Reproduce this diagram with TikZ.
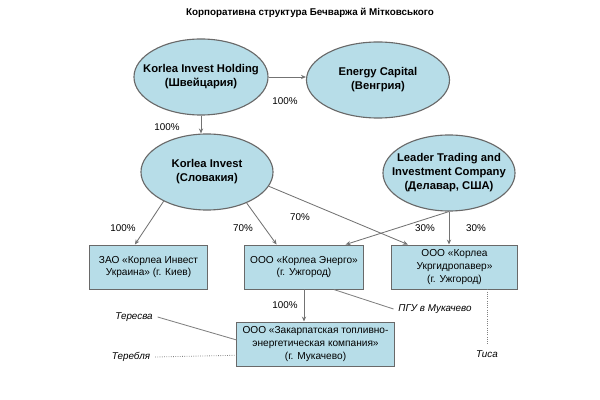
\documentclass[tikz,border=0pt]{standalone}
\usepackage{fontspec}
\setmainfont{Liberation Sans}
\usetikzlibrary{positioning, calc, arrows.meta, shapes.geometric}
\definecolor{aquafill}{RGB}{183,221,232}
\definecolor{rimgray}{RGB}{105,105,105}

\begin{document}
\begin{tikzpicture}[
    x=0.025cm, y=-0.025cm,
    firmoval/.style  = {ellipse, draw=rimgray, line width=0.8pt, fill=aquafill,
                        inner sep=0pt, inner xsep=-15pt,
                        minimum width=3.3cm, minimum height=1.9cm,
                        font=\fontsize{8}{10}\selectfont\bfseries, align=center},
    firmbox/.style   = {rectangle, draw=rimgray, line width=0.7pt, fill=aquafill,
                        minimum height=1.1cm, inner sep=1pt,
                        font=\fontsize{7.2}{9}\selectfont, align=center},
    share/.style     = {line width=0.6pt, draw=black!55,
                        -{Stealth[length=3.5pt, width=3pt]}},
    plantlink/.style = {line width=0.6pt, draw=black!50},
    plantdot/.style  = {plantlink, densely dotted},
    pctlbl/.style    = {font=\fontsize{7}{8}\selectfont},
    plantlbl/.style  = {font=\fontsize{7}{8}\selectfont\itshape},
    titlelbl/.style  = {font=\fontsize{7}{8}\selectfont\bfseries},
]
\useasboundingbox (0,0) rectangle (600,400);

%% ============================================================
%% COORDINATES (pixels of the 600x400 sheet)
%% ============================================================
\def\xHold{201}
\def\xEnergy{378}
\def\xInvest{207}
\def\xLeader{449}

\def\yTop{77}
\def\yMid{172}
\def\yBox{267}
\def\yLow{344}

%% ============================================================
%% TITLE
%% ============================================================
\node[titlelbl] (title) at (310,13)
    {Корпоративна структура Бечваржа й Мітковського};

%% ============================================================
%% HOLDINGS (ellipses)
%% ============================================================
\node[firmoval, minimum width=3.35cm] (hold) at (\xHold, \yTop)
    {Korlea Invest Holding\\(Швейцария)};
\node[firmoval, minimum width=3.575cm] (energy) at (\xEnergy, 80)
    {Energy Capital\\(Венгрия)};
\node[firmoval] (invest) at (\xInvest, \yMid)
    {Korlea Invest\\(Словакия)};
\node[firmoval] (leader) at (\xLeader, 173)
    {Leader Trading and\\Investment Company\\(Делавар, США)};

%% ============================================================
%% COMPANIES (boxes)
%% ============================================================
\node[firmbox, minimum width=2.925cm] (kiev) at (148.5, \yBox)
    {ЗАО «Корлеа Инвест\\Украина» (г. Киев)};
\node[firmbox, minimum width=2.95cm] (energo) at (304, \yBox)
    {ООО «Корлеа Энерго»\\(г. Ужгород)};
\node[firmbox, minimum width=3.125cm] (ukrgidro) at (454.5, \yBox)
    {ООО «Корлеа\\Укргидропавер»\\(г. Ужгород)};
\node[firmbox, minimum width=3.925cm] (zkte) at (315.5, \yLow)
    {ООО «Закарпатская топливно-\\энергетическая компания»\\(г. Мукачево)};

%% ============================================================
%% PLANTS (italic labels)
%% ============================================================
\node[plantlbl] (pgu)      at (435, 309) {ПГУ в Мукачево};
\node[plantlbl] (tisa)     at (487, 354) {Тиса};
\node[plantlbl] (teresva)  at (134, 317) {Тересва};
\node[plantlbl] (tereblya) at (131, 357) {Теребля};

%% ============================================================
%% OWNERSHIP CONNECTIONS
%% ============================================================
\draw[share] (hold.east) -- (hold.east -| energy.west);
\draw[share] (hold.south) -- (hold.south |- invest.north);

\draw[share] (invest.214) -- ($(kiev.north west)!0.385!(kiev.north east)$);
\draw[share] (invest.322) -- ($(energo.north west)!0.27!(energo.north east)$);
\draw[share] (invest.347) -- ($(ukrgidro.north west)!0.13!(ukrgidro.north east)$);

\draw[share] (leader.south) -- ($(energo.north west)!0.85!(energo.north east)$);
\draw[share] (leader.south) -- (leader.south |- ukrgidro.north);

\draw[share] (energo.south) -- (energo.south |- zkte.north);

%% ============================================================
%% PLANT LINKS
%% ============================================================
\draw[plantlink] ($(energo.south west)!0.75!(energo.south east)$) -- (pgu.west);
\draw[plantdot]  (tisa.north |- ukrgidro.south) -- (tisa.north);
\draw[plantlink] (teresva.east) -- ($(zkte.north west)!0.41!(zkte.south west)$);
\draw[plantdot]  (tereblya.east) -- ($(zkte.north west)!0.75!(zkte.south west)$);

%% ============================================================
%% SHARE LABELS
%% ============================================================
\node[pctlbl] (pHoldEnergy)   at (285, 101) {100\%};
\node[pctlbl] (pHoldInvest)   at (167, 127) {100\%};
\node[pctlbl] (pInvestKiev)   at (123, 228) {100\%};
\node[pctlbl] (pInvestEnergo) at (243, 228) {70\%};
\node[pctlbl] (pInvestUkrg)   at (300, 217) {70\%};
\node[pctlbl] (pLeaderEnergo) at (425, 228) {30\%};
\node[pctlbl] (pLeaderUkrg)   at (476, 228) {30\%};
\node[pctlbl] (pEnergoZkte)   at (285, 305) {100\%};

\end{tikzpicture}
\end{document}
